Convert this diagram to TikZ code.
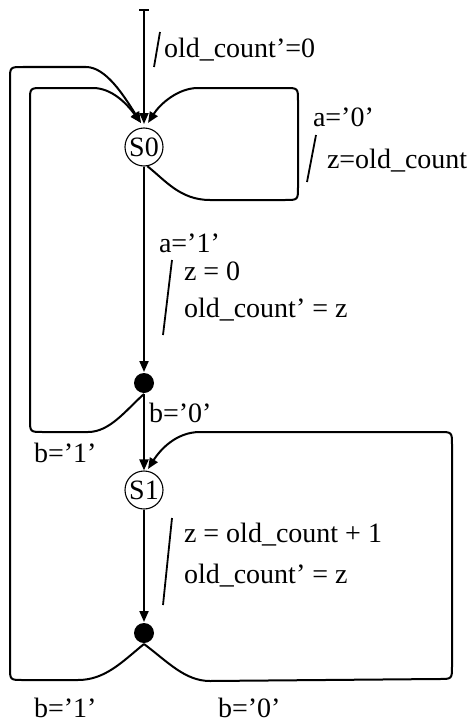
\documentclass[tikz,border=0pt]{standalone}
\usepackage{fontspec}
\setmainfont{Liberation Serif}
\usetikzlibrary{arrows.meta}
\begin{document}
\begin{tikzpicture}[x=1pt,y=-1pt,
  line width=2pt,
  every node/.style={font=\fontsize{28}{32}\selectfont},
  state/.style={circle,draw,line width=1.1pt,inner sep=0pt,minimum size=38pt,font=\fontsize{28}{32}\selectfont},
  junction/.style={circle,fill=black,inner sep=0pt,minimum size=20pt},
  lbl/.style={anchor=base west,inner sep=0pt},
  trans/.style={-{Triangle[length=11pt,width=9pt]}},
  slash/.style={line width=1.8pt}]
\useasboundingbox (0,0) rectangle (471,725);

% states and junction points
\node[state] (s0) at (144,147) {S0};
\node[state] (s1) at (144,490) {S1};
\node[junction] (j1) at (144,383) {};
\node[junction] (j2) at (144,633) {};
\coordinate (start) at (144,9);
\coordinate (s0in) at (144,124);
\coordinate (s0inl) at (141,123);
\coordinate (s0inr) at (148,123);
\coordinate (s1in) at (148,469);

% reset transition
\draw[{Bar[width=10pt,line width=1.6pt]}-{Triangle[length=11pt,width=9pt]}] (start) -- (s0in);
\draw[slash] (154,67) -- (160,32);
\node[lbl] (tinit) at (163,58) {old\_count’=0};

% S0 self loop on a='0'
\draw[trans] (s0.-80) .. controls (165,180) and (180,200) .. (210,200)
  -- (285,200) .. controls (298,200) .. (298,187)
  -- (298,101) .. controls (298,88) .. (285,88)
  -- (198,88) .. controls (178,88) and (160,104) .. (s0inr);
\node[lbl] (ta0) at (312,126) {a=’0’};
\draw[slash] (307,182) -- (316,135);
\node[lbl] (tz0) at (326,168) {z=old\_count};

% S0 to first junction on a='1'
\draw[trans] (s0) -- (j1);
\node[lbl] (ta1) at (158,252) {a=’1’};
\draw[slash] (163,335) -- (172,260);
\node[lbl] (tz1) at (183,280) {z = 0};
\node[lbl] (to1) at (183,317) {old\_count’ = z};

% first junction: b='1' back to S0, b='0' on to S1
\draw[trans] (j1.south) .. controls (126,410) and (110,432) .. (88,432)
  -- (43,432) .. controls (30,432) .. (30,419)
  -- (30,101) .. controls (30,88) .. (43,88)
  -- (93,88) .. controls (112,88) and (127,104) .. (s0inl);
\draw[trans] (j1) -- (s1.north);
\node[lbl] (tb0a) at (148,422) {b=’0’};
\node[lbl] (tb1a) at (33,462) {b=’1’};

% S1 to second junction
\draw[trans] (s1) -- (j2);
\draw[slash] (163,605) -- (172,518);
\node[lbl] (tz2) at (183,542) {z = old\_count + 1};
\node[lbl] (to2) at (183,583) {old\_count’ = z};

% second junction: b='1' back to S0, b='0' back to S1
\draw[trans] (j2.south) .. controls (122,662) and (105,680) .. (78,680)
  -- (23,680) .. controls (10,680) .. (10,667)
  -- (10,80) .. controls (10,67) .. (23,67)
  -- (86,67) .. controls (106,67) and (124,96) .. (s0inl);
\draw[trans] (j2.south) .. controls (168,662) and (185,681) .. (210,681)
  -- (439,679) .. controls (452,679) .. (452,666)
  -- (452,445) .. controls (452,432) .. (439,432)
  -- (200,432) .. controls (176,432) and (160,450) .. (s1in);
\node[lbl] (tb1b) at (33,717) {b=’1’};
\node[lbl] (tb0b) at (217,717) {b=’0’};
\end{tikzpicture}
\end{document}
